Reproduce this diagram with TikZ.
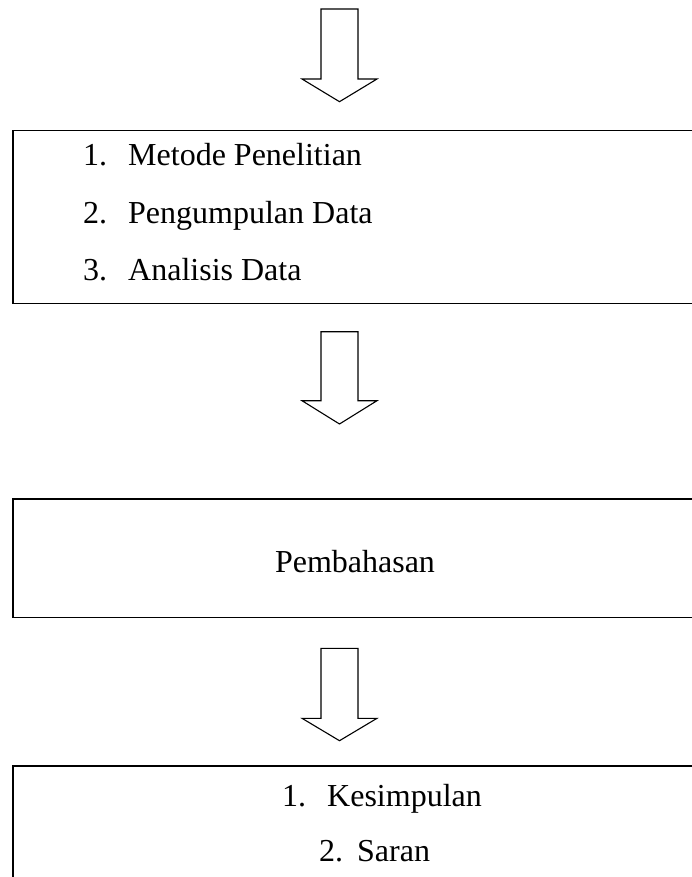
\documentclass[tikz,border=0pt]{standalone}
\usepackage{fontspec}
\setmainfont{Liberation Serif}
\tikzset{
  x=1pt, y=-1pt,
  frame/.style={draw=black, line width=1.5pt, inner sep=0pt},
  blockarrow/.style={draw=black, line width=1.1pt, fill=white, line join=miter},
  txt/.style={font=\fontsize{32}{38}\selectfont, inner sep=0pt, anchor=base west},
}
\newcommand{\downarrowblock}[4]{% top, base, tip, name
  \draw[blockarrow] (321,#1) -- (358,#1) -- (358,#2) -- (377,#2) -- (339.5,#3) coordinate (#4)
    -- (302,#2) -- (321,#2) -- cycle;}
\begin{document}
\begin{tikzpicture}
\useasboundingbox (0,0) rectangle (691,877);
% boxes
\node[frame, minimum width=700pt, minimum height=172.5pt, anchor=north west] (b1) at (12,130) {};
\node[frame, minimum width=700pt, minimum height=118.5pt, anchor=north west] (b2) at (12,498) {};
\node[frame, minimum width=700pt, minimum height=130pt, anchor=north west] (b3) at (12,765) {};
% arrows
\downarrowblock{9}{79}{101.7}{a1}
\downarrowblock{331.7}{400.7}{424}{a2}
\downarrowblock{648.3}{718.3}{740.7}{a3}
% texts
\node[txt] (n1) at (83,166) {1.};
\node[txt] (t1) at (128,166) {Metode Penelitian};
\node[txt] (n2) at (83,223) {2.};
\node[txt] (t2) at (128,223) {Pengumpulan Data};
\node[txt] (n3) at (83,280) {3.};
\node[txt] (t3) at (128,280) {Analisis Data};
\node[txt, anchor=base] (p) at (355,572) {Pembahasan};
\node[txt] (n4) at (282,806) {1.};
\node[txt] (t4) at (327,806) {Kesimpulan};
\node[txt] (n5) at (319,861) {2.};
\node[txt] (t5) at (357,861) {Saran};
\end{tikzpicture}
\end{document}
